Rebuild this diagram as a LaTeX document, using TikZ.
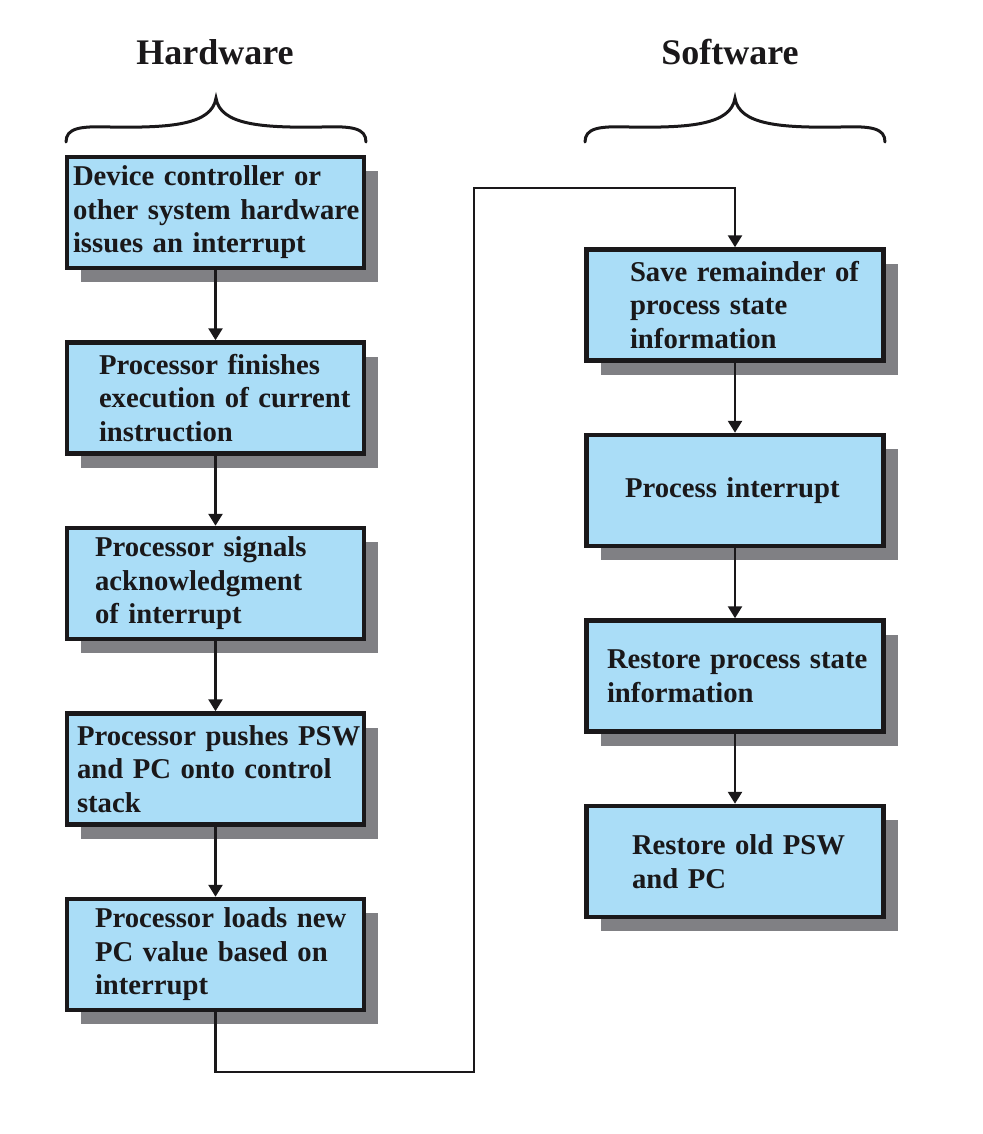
\documentclass[tikz,border=0pt]{standalone}
\usepackage{fontspec}
\setmainfont{Liberation Serif}
\usetikzlibrary{arrows.meta,shadows}
\definecolor{boxblue}{RGB}{170,221,247}
\definecolor{shadowgray}{RGB}{128,128,132}
\definecolor{ink}{RGB}{26,24,26}
\begin{document}
\begin{tikzpicture}[x=1pt,y=-1pt,
  stepbox/.style={draw=ink, line width=4.5pt, fill=boxblue, rectangle,
    minimum width=297pt, minimum height=111pt, inner xsep=2pt, inner ysep=0pt,
    text width=293pt, align=left, text=ink,
    font=\bfseries\fontsize{28.7}{33.5}\selectfont,
    drop shadow={shadow xshift=14pt, shadow yshift=-14pt, fill=shadowgray,
      opacity=1, draw=none}},
  textindent/.style={execute at begin node={\leftskip=#1pt\relax}},
  flow/.style={draw=ink, line width=2.6pt, -{Triangle[width=14pt,length=12pt]}},
  heading/.style={font=\bfseries\fontsize{36}{40}\selectfont, anchor=base, text=ink},
  bracepath/.style={draw=ink, line width=3pt, line cap=round},
  pics/curly/.style={code={
    \draw[bracepath] (-150,44) .. controls (-150,30) and (-136,28) .. (-106,29)
      .. controls (-46,30) and (-4,27) .. (0,0)
      .. controls (4,27) and (46,30) .. (106,29)
      .. controls (136,28) and (150,30) .. (150,44);
  }}
]
\useasboundingbox (0,0) rectangle (982,1134);

% column titles and braces
\node[heading] (hwtitle) at (215,65) {Hardware};
\node[heading] (swtitle) at (730,65) {Software};
\pic (hwbrace) at (216,98) {curly};
\pic (swbrace) at (735,98) {curly};

% hardware steps
\node[stepbox, textindent=4] (hw1) at (215.5,212.5)
  {Device controller or\\other system hardware\\issues an interrupt};
\node[stepbox, textindent=30] (hw2) at (215.5,398)
  {Processor finishes\\execution of current\\instruction};
\node[stepbox, textindent=26] (hw3) at (215.5,583.5)
  {Processor signals\\acknowledgment\\of interrupt};
\node[stepbox, textindent=8] (hw4) at (215.5,769)
  {Processor pushes PSW\\and PC onto control\\stack};
\node[stepbox, textindent=26] (hw5) at (215.5,954.5)
  {Processor loads new\\PC value based on\\interrupt};

% software steps
\node[stepbox, textindent=41.5] (sw1) at (735,305)
  {Save remainder of\\process state\\information};
\node[stepbox, textindent=36.5] (sw2) at (735,490.5)
  {Process interrupt};
\node[stepbox, textindent=18.5] (sw3) at (735,676)
  {Restore process state\\information};
\node[stepbox, textindent=43.5] (sw4) at (735,861.5)
  {Restore old PSW\\and PC};

% flow
\draw[flow] (hw1) -- (hw2);
\draw[flow] (hw2) -- (hw3);
\draw[flow] (hw3) -- (hw4);
\draw[flow] (hw4) -- (hw5);
\coordinate (dropL) at (474,1072);
\coordinate (riseT) at (474,188);
\draw[flow] (hw5.south) |- (dropL) -- (riseT) -| (sw1.north);
\draw[flow] (sw1) -- (sw2);
\draw[flow] (sw2) -- (sw3);
\draw[flow] (sw3) -- (sw4);
\end{tikzpicture}
\end{document}
